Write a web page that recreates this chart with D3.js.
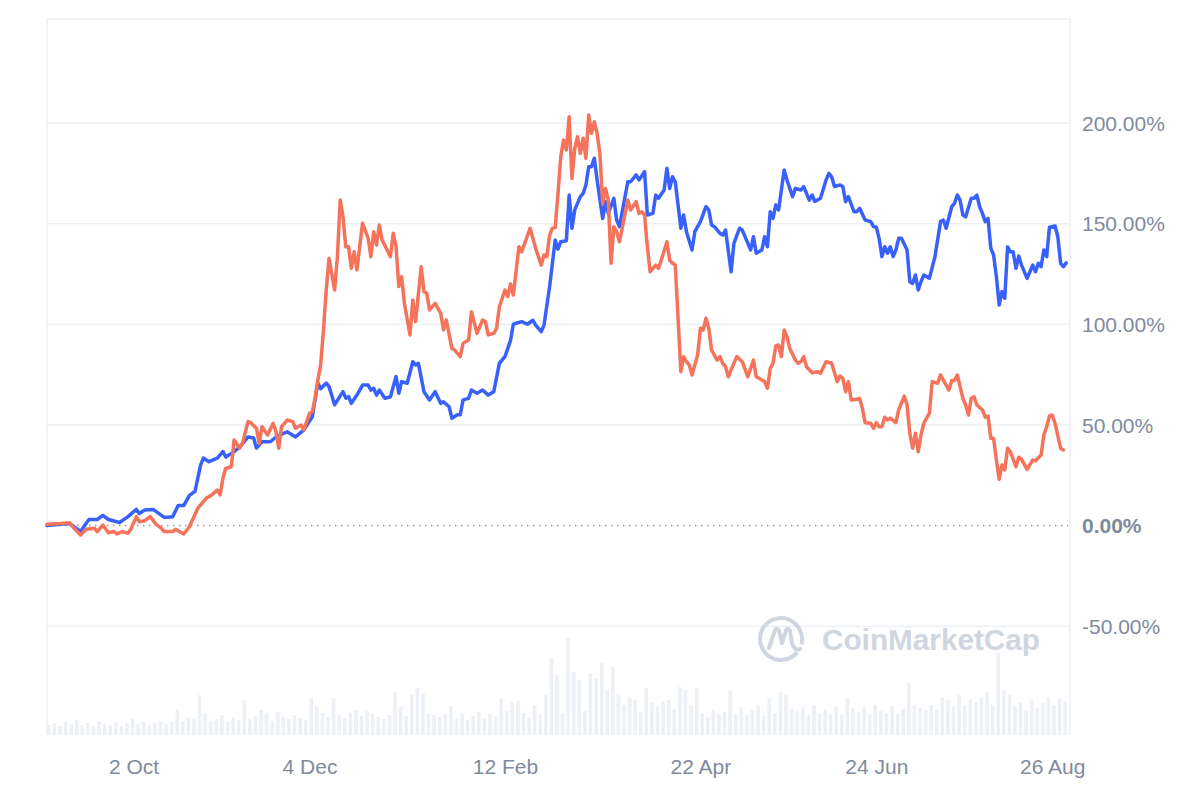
<!DOCTYPE html>
<html>
<head>
<meta charset="utf-8">
<script src="https://cdn.jsdelivr.net/npm/d3@7"></script>
<style>
  html, body { margin: 0; padding: 0; background: #ffffff; }
  svg { display: block; }
  text { font-family: "Liberation Sans", Arial, Helvetica, sans-serif; }
</style>
</head>
<body>
<svg id="chart" width="1200" height="800"></svg>
<script>
// ---------- DATA ----------
const startDate = new Date(2023, 8, 1);   // day 0
const endDate = new Date(2024, 8, 1);

// blue series: day offsets from startDate and % change
const blueDays = [0,8,12,15,18,20,22,26,29,32,33,35,38,42,45,47,49,51,53,55,56,58,61,63,64,67,69,72,74,75,77,80,82,86,89,92,95,97,98,100,101,103,106,107,108,109,111,113,115,116,117,118,119,121,123,125,126,127,129,131,132,133,135,137,139,141,142,144,145,147,148,149,151,152,154,156,158,160,162,164,166,167,168,170,172,174,175,177,178,180,182,183,184,186,187,188,189,191,192,193,194,195,196,197,199,200,201,203,204,205,208,209,211,212,214,215,217,218,219,221,222,223,224,225,227,228,229,231,232,234,236,237,238,239,241,242,243,245,246,248,249,252,253,254,256,257,258,259,260,261,262,264,265,267,268,270,271,273,274,275,277,279,280,281,282,284,285,286,287,289,290,291,293,295,296,297,298,299,300,301,302,303,304,305,306,308,309,310,311,312,313,314,316,318,320,321,322,324,325,326,327,328,329,331,332,333,334,335,336,337,338,339,340,341,342,343,344,345,346,347,348,349,351,353,354,355,356,357,358,359,361,362,363,364,365];
const blueValues = [0,1,-3,3,3,5,3,1.5,4.4,8,6,7.7,8,4,4.4,10,10,15,17,30,33.5,31.7,33.5,36.7,34,36.7,39,44,43.5,38.5,41.6,41.6,44,46.6,44,47.5,54,70.8,68,70.8,69,60,66.5,63.3,64,60.7,64.8,69.8,69.8,67.3,68.2,64.8,67.3,63.2,64,74,65.7,71.5,70.7,81.4,79.8,80.6,66.5,62.4,66.5,60.7,61.5,59,53.3,55,55,62.4,63.2,67.3,65.7,67.3,64.8,66.5,80.6,83.9,92,100,100.5,101.3,100,102,99.6,96.3,99.6,118.7,141.9,137.3,141,141.5,164.2,147.7,156.8,163.4,165,169.2,178.3,178.3,182.5,171.7,152.6,160.9,155.1,162.6,151.8,148.5,170.8,170.8,174.2,171.7,175.8,154.3,155.1,164.2,162.6,166.7,177.5,167.5,173.3,170.8,147.7,154.3,146,136.9,146,151,158.4,156.8,149.3,148.5,145.2,144.3,146.8,126.1,140.2,147.7,146.8,136.9,143.5,135.3,136.9,143.5,138.5,155.9,152.6,159.3,156.8,176.6,171.7,163.4,167.5,166.7,168.4,161.7,164.2,161,162.6,171.7,175,173.3,168.4,169.2,168.4,160.9,163.4,155.9,155.9,157.6,151.8,151,148.5,148.2,142.7,133.6,138.5,135.3,138.5,133.6,136.9,142.7,142.7,136.9,121.1,120.3,124.5,117,121.1,124.5,122.8,133.6,151,151.8,147.7,158.4,160.1,164.2,161.7,154.3,153.4,162.6,162.6,164.2,158.4,155.1,151,152.6,137.7,134.4,123.6,109.6,116.2,112.9,138.5,136,136,127.8,133.9,129.4,122.8,129.4,126.1,130.3,128.6,136.9,133.6,148.2,148.8,143.5,130.3,128.6,130.5];

// red series
const redDays = [0,5,8,9,12,14,17,18,20,22,24,25,27,29,30,32,33,35,37,39,41,42,45,46,49,51,54,55,57,59,61,62,63,64,66,67,69,70,72,73,75,76,77,79,81,82,83,84,86,88,89,91,92,94,95,96,97,98,99,100,101,103,104,105,106,107,108,109,110,111,113,115,116,117,118,119,120,123,124,125,126,127,128,130,131,132,134,135,136,137,139,141,142,143,145,146,148,149,151,152,154,156,157,158,160,161,162,164,165,166,167,169,170,173,175,177,178,179,180,181,182,183,184,185,186,187,188,189,190,191,192,193,194,195,196,197,198,199,200,201,202,203,204,205,206,208,209,211,212,213,214,215,216,218,219,220,222,223,224,225,227,228,229,230,231,233,234,235,236,237,238,240,241,242,243,244,245,247,249,251,253,254,256,257,258,259,260,261,262,263,264,265,266,268,269,270,271,272,274,276,277,279,281,283,284,285,286,287,288,290,291,292,293,295,296,297,298,299,300,301,302,304,305,307,308,309,310,311,312,313,314,316,317,319,320,321,323,324,325,326,328,329,330,331,332,333,335,336,337,338,339,340,341,342,343,344,345,347,348,349,351,353,354,356,357,358,359,360,361,363,364];
const redValues = [0.6,1,1.4,-0.3,-4.7,-1.9,-1.4,-3,0.2,-3.6,-3,-4.2,-3,-3.9,-1.9,4.4,1.9,2.4,4.4,0.7,-1.4,-3,-3,-1.9,-4.2,-0.6,8.5,10.2,13.5,15.2,17.6,15.2,23.5,28.4,29.2,42.5,38.4,40.8,51.6,51.1,48.3,40.8,49.1,45,50.8,46.6,38.4,49.1,52.4,51.6,48.3,49.9,47.5,55.8,56.5,63.2,72.3,79.8,97,117,132.8,117,133.6,161.7,153.4,138.5,138.5,127.8,136,127,150.2,142.7,133.6,146,139.4,149.3,141.9,133.6,145.2,138.5,118.7,123.6,110.4,94.7,112,101.3,128.6,116.2,115.4,107.1,110.4,105.4,97.1,102.1,88,87.2,83.9,90.5,92.2,106.2,95.5,102.1,101.3,94.7,95.5,98,108.7,117,113.7,120,114.5,138.5,136,147.7,137.7,129.4,134.4,133.6,144.3,147.7,148,165,183.3,191.6,186.6,203.1,172.5,187.4,193.2,184.9,192.4,182.5,204,194.9,200.6,194.9,184.9,160.1,167.5,161.7,130.3,148.5,146,141,147.7,161.7,156.8,160.9,155.1,155.9,154.3,138.5,126.1,129.4,127.8,131.9,141,131.9,130.3,129.4,76.4,83.9,81.4,79.8,74.8,84.7,98,97.1,103,98,87.2,82.2,83.9,80.6,78.9,73.9,77.3,83.9,81.4,73.9,82.2,73.9,72.3,71.5,68.2,78.1,80.6,89.2,89.7,83.9,97.1,93.8,88,82.2,80.6,81.4,83.9,78.9,75.9,76.4,75.6,81.4,80.6,71.5,74.3,73.1,66.5,71.5,62.4,62.7,63.2,58.2,51.1,50.8,48.3,51.1,49.1,49.1,53.8,52.4,53.3,51.1,57.4,64.3,59.9,45.8,38.4,45.8,36.7,45,50.8,55.8,71.5,70.7,74.8,72.3,67.3,72,72,74.8,63.2,59.9,54.9,63.2,64,59.9,57.4,53.8,54.4,43.3,43.3,32.5,23,30.1,27.6,38.4,36.7,29.2,33.9,32.9,27.9,32.5,32.2,35,45,49.1,54.4,54.9,50.8,38.4,37.5];

// volume, one value per 2-day bucket starting at day 0 (relative units)
const volumeStepDays = 2;
const volumeValues = [10,12,9,13,11,15,10,12,9,14,11,10,13,9,12,16,11,13,10,12,14,11,13,25,14,18,16,40,22,14,16,20,13,17,15,35,16,19,25,22,14,23,18,16,20,17,15,37,28,22,18,37,20,17,22,25,19,24,21,18,16,20,43,28,19,40,47,42,22,20,18,21,29,17,22,15,19,23,16,21,18,37,24,33,34,22,18,30,20,40,77,60,22,97,63,55,24,62,57,72,45,68,40,30,38,35,23,47,32,28,33,35,26,48,45,30,47,22,18,25,20,23,45,21,28,20,25,30,19,37,22,43,40,26,24,28,20,30,22,25,21,28,20,37,27,23,28,20,30,24,22,29,21,26,52,30,27,25,30,26,38,35,28,40,30,36,33,38,43,30,82,45,40,28,33,25,35,27,32,38,30,37,34];

const xTickDates = [new Date(2023,9,2), new Date(2023,11,4), new Date(2024,1,12), new Date(2024,3,22), new Date(2024,5,24), new Date(2024,7,26)];
const yTickValues = [-50, 0, 50, 100, 150, 200];

// ---------- DRAW ----------
(function () {
const svg = d3.select("#chart");
const pL = 47, pR = 1070, pT = 19, pB = 735;

const x = d3.scaleTime().domain([startDate, endDate]).range([pL, 1069]);
const y = d3.scaleLinear().domain([0, 200]).range([525.5, 123]);
const v = d3.scaleLinear().domain([0, 100]).range([pB, pB - 100]);

svg.append("rect").attr("width", 1200).attr("height", 800).attr("fill", "#ffffff");

// volume bars
const dayPx = x(d3.timeDay.offset(startDate, 1)) - x(startDate);
svg.append("g").selectAll("rect").data(volumeValues).join("rect")
  .attr("x", (d, i) => x(d3.timeDay.offset(startDate, i * volumeStepDays)))
  .attr("y", d => v(d))
  .attr("width", Math.max(1, dayPx * volumeStepDays - 2))
  .attr("height", d => pB - v(d))
  .attr("fill", "#edf0f4");

// frame
const frame = svg.append("g").attr("stroke", "#eceff3").attr("stroke-width", 1.5).attr("fill", "none");
frame.append("line").attr("x1", pL).attr("x2", pR).attr("y1", pT).attr("y2", pT);
frame.append("line").attr("x1", pL).attr("x2", pL).attr("y1", pT).attr("y2", pB);
frame.append("line").attr("x1", pR).attr("x2", pR).attr("y1", pT).attr("y2", pB);

// gridlines
svg.append("g").selectAll("line").data(yTickValues.filter(t => t !== 0)).join("line")
  .attr("x1", pL).attr("x2", pR)
  .attr("y1", d => y(d)).attr("y2", d => y(d))
  .attr("stroke", "#eef1f4").attr("stroke-width", 1.5);

// zero dotted line
svg.append("line")
  .attr("x1", pL).attr("x2", 1068)
  .attr("y1", y(0)).attr("y2", y(0))
  .attr("stroke", "#8f97a3").attr("stroke-width", 1.4)
  .attr("stroke-dasharray", "1.5,4.5");

// watermark
const wm = svg.append("g");
const cx = 781, cy = 639, r = 21;
const arc = d3.arc().innerRadius(r - 2).outerRadius(r + 2).startAngle(Math.PI * 0.72).endAngle(Math.PI * 2.58);
wm.append("path").attr("d", arc()).attr("transform", `translate(${cx},${cy})`).attr("fill", "#cfd6e0");
wm.append("path")
  .attr("d", `M${cx-12},${cy+9} L${cx-6},${cy-9} Q${cx-4},${cy-12} ${cx-2},${cy-8} L${cx+1},${cy+4} L${cx+5},${cy-9} Q${cx+7},${cy-12} ${cx+9},${cy-8} L${cx+11},${cy+4} Q${cx+13},${cy+12} ${cx+19},${cy+10}`)
  .attr("fill", "none").attr("stroke", "#cfd6e0").attr("stroke-width", 4)
  .attr("stroke-linecap", "round").attr("stroke-linejoin", "round");
wm.append("text").attr("x", 822).attr("y", 650)
  .attr("font-size", 29).attr("font-weight", "bold").attr("fill", "#cfd6e0")
  .attr("textLength", 218).attr("lengthAdjust", "spacingAndGlyphs")
  .text("CoinMarketCap");

// lines
const line = d3.line()
  .x(d => x(d3.timeDay.offset(startDate, d[0])))
  .y(d => y(d[1]));
const blueData = d3.zip(blueDays, blueValues);
const redData = d3.zip(redDays, redValues);
svg.append("path").datum(blueData).attr("d", line)
  .attr("fill", "none").attr("stroke", "#3861fb").attr("stroke-width", 3.5)
  .attr("stroke-linejoin", "round").attr("stroke-linecap", "round");
svg.append("path").datum(redData).attr("d", line)
  .attr("fill", "none").attr("stroke", "#f5735a").attr("stroke-width", 3.5)
  .attr("stroke-linejoin", "round").attr("stroke-linecap", "round");

// y axis labels
const yAxis = d3.axisRight(y).tickValues(yTickValues).tickSize(0).tickPadding(0)
  .tickFormat(d => d.toFixed(2) + "%");
const yg = svg.append("g").attr("transform", "translate(1082,0)").call(yAxis);
yg.select(".domain").remove();
yg.selectAll("text").attr("font-size", 21).attr("fill", "#808a9d")
  .attr("font-family", "'Liberation Sans', Arial, sans-serif")
  .attr("font-weight", d => d === 0 ? "bold" : "normal")
  .attr("dy", "0.35em").attr("x", 0);

// x axis labels
const xAxis = d3.axisBottom(x).tickValues(xTickDates).tickSize(0).tickPadding(0)
  .tickFormat(d3.timeFormat("%-d %b"));
const xg = svg.append("g").attr("transform", "translate(0,767)").call(xAxis);
xg.select(".domain").remove();
xg.selectAll("text").attr("font-size", 21).attr("fill", "#808a9d")
  .attr("font-family", "'Liberation Sans', Arial, sans-serif")
  .attr("dy", "0.35em").attr("y", 0);
})();
</script>
</body>
</html>
